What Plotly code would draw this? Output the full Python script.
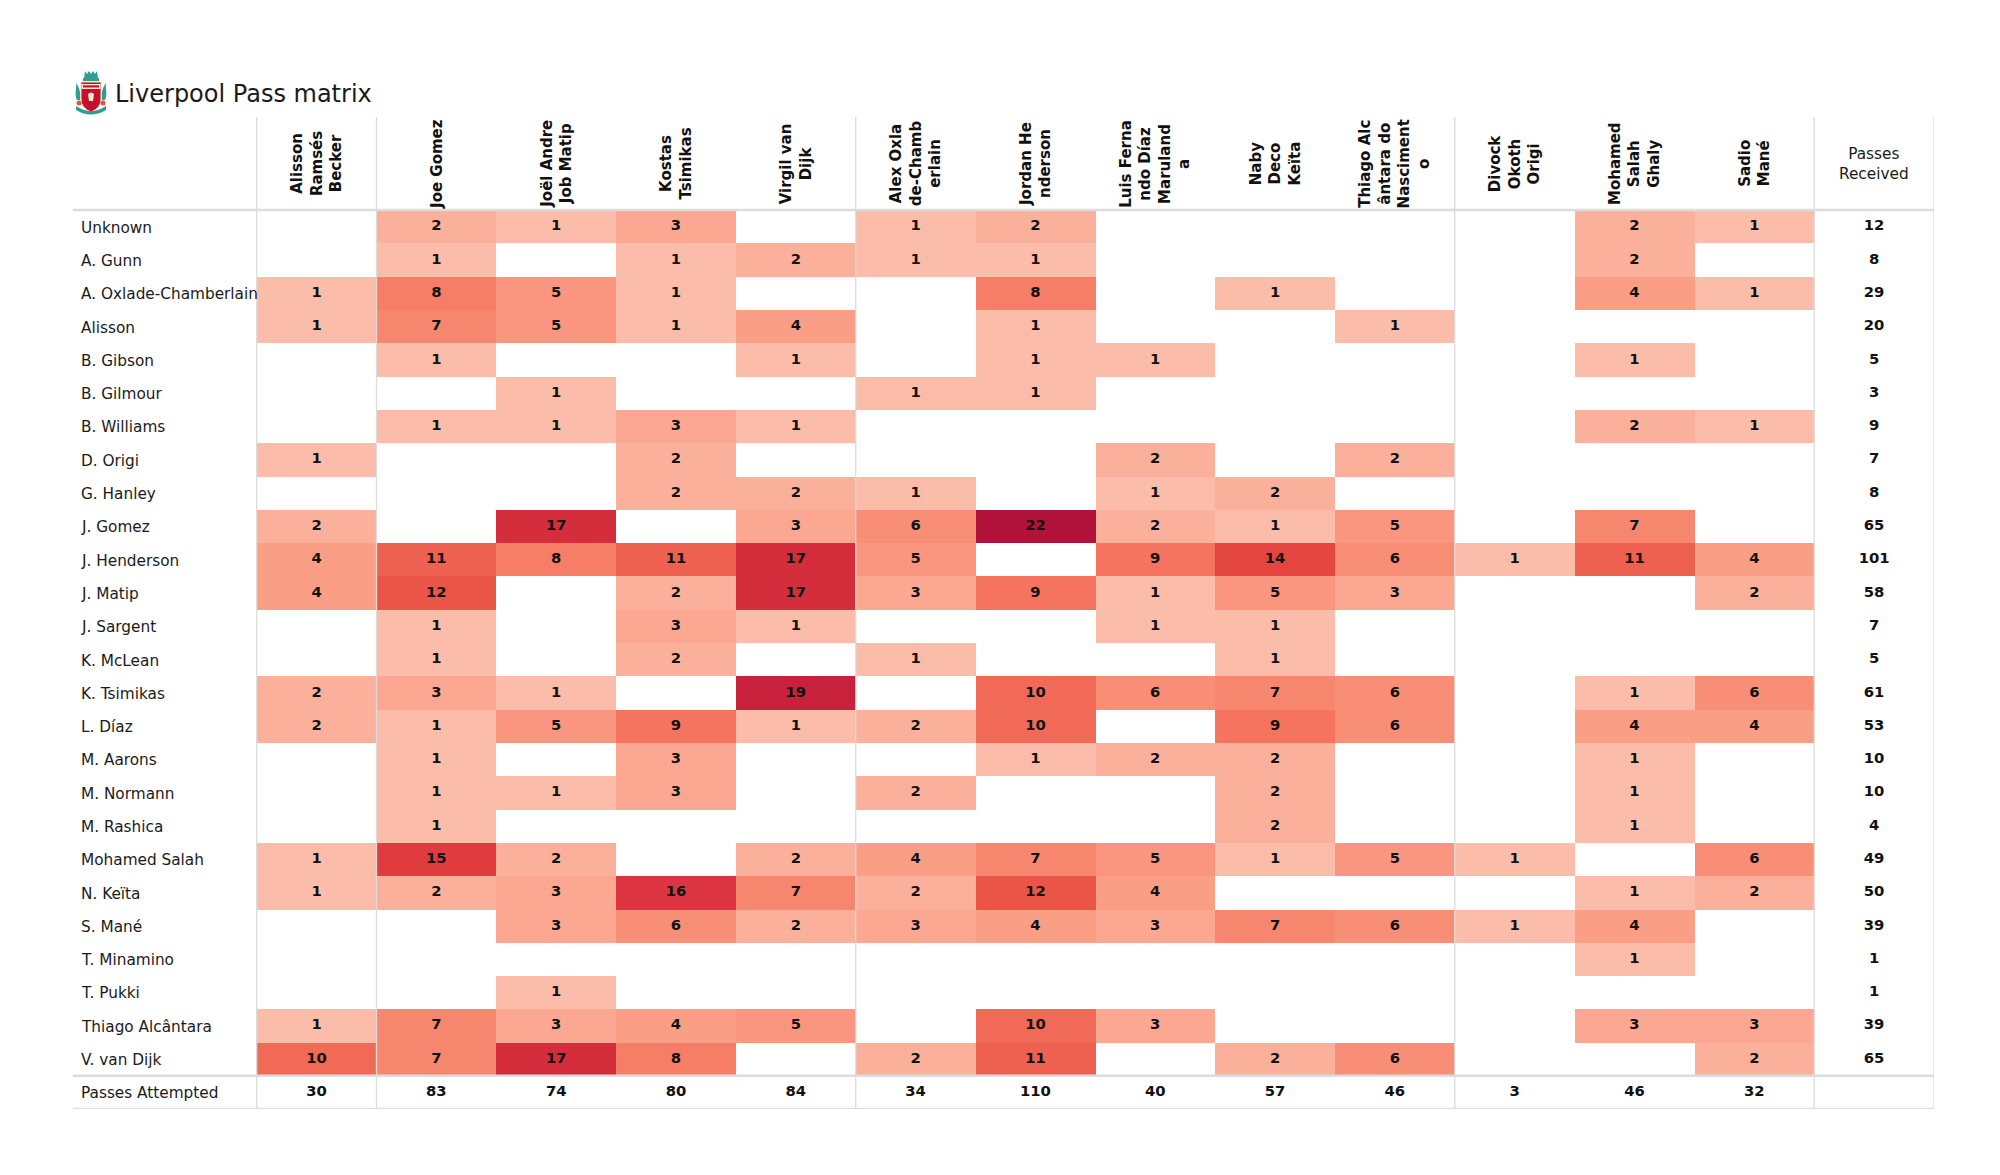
import base64
import plotly.graph_objects as go

# ---------------- data ----------------
passers = [
    "Alisson<br>Ramsés<br>Becker", "Joe Gomez", "Joël Andre<br>Job Matip", "Kostas<br>Tsimikas",
    "Virgil van<br>Dijk", "Alex Oxla<br>de-Chamb<br>erlain", "Jordan He<br>nderson",
    "Luis Ferna<br>ndo Díaz<br>Maruland<br>a", "Naby<br>Deco<br>Keïta",
    "Thiago Alc<br>ântara do<br>Nasciment<br>o", "Divock<br>Okoth<br>Origi",
    "Mohamed<br>Salah<br>Ghaly", "Sadio<br>Mané",
]
receivers = [
    "Unknown", "A. Gunn", "A. Oxlade-Chamberlain", "Alisson", "B. Gibson", "B. Gilmour",
    "B. Williams", "D. Origi", "G. Hanley", "J. Gomez", "J. Henderson", "J. Matip",
    "J. Sargent", "K. McLean", "K. Tsimikas", "L. Díaz", "M. Aarons", "M. Normann",
    "M. Rashica", "Mohamed Salah", "N. Keïta", "S. Mané", "T. Minamino", "T. Pukki",
    "Thiago Alcântara", "V. van Dijk",
]
passes = [
    [0, 2, 1, 3, 0, 1, 2, 0, 0, 0, 0, 2, 1],
    [0, 1, 0, 1, 2, 1, 1, 0, 0, 0, 0, 2, 0],
    [1, 8, 5, 1, 0, 0, 8, 0, 1, 0, 0, 4, 1],
    [1, 7, 5, 1, 4, 0, 1, 0, 0, 1, 0, 0, 0],
    [0, 1, 0, 0, 1, 0, 1, 1, 0, 0, 0, 1, 0],
    [0, 0, 1, 0, 0, 1, 1, 0, 0, 0, 0, 0, 0],
    [0, 1, 1, 3, 1, 0, 0, 0, 0, 0, 0, 2, 1],
    [1, 0, 0, 2, 0, 0, 0, 2, 0, 2, 0, 0, 0],
    [0, 0, 0, 2, 2, 1, 0, 1, 2, 0, 0, 0, 0],
    [2, 0, 17, 0, 3, 6, 22, 2, 1, 5, 0, 7, 0],
    [4, 11, 8, 11, 17, 5, 0, 9, 14, 6, 1, 11, 4],
    [4, 12, 0, 2, 17, 3, 9, 1, 5, 3, 0, 0, 2],
    [0, 1, 0, 3, 1, 0, 0, 1, 1, 0, 0, 0, 0],
    [0, 1, 0, 2, 0, 1, 0, 0, 1, 0, 0, 0, 0],
    [2, 3, 1, 0, 19, 0, 10, 6, 7, 6, 0, 1, 6],
    [2, 1, 5, 9, 1, 2, 10, 0, 9, 6, 0, 4, 4],
    [0, 1, 0, 3, 0, 0, 1, 2, 2, 0, 0, 1, 0],
    [0, 1, 1, 3, 0, 2, 0, 0, 2, 0, 0, 1, 0],
    [0, 1, 0, 0, 0, 0, 0, 0, 2, 0, 0, 1, 0],
    [1, 15, 2, 0, 2, 4, 7, 5, 1, 5, 1, 0, 6],
    [1, 2, 3, 16, 7, 2, 12, 4, 0, 0, 0, 1, 2],
    [0, 0, 3, 6, 2, 3, 4, 3, 7, 6, 1, 4, 0],
    [0, 0, 0, 0, 0, 0, 0, 0, 0, 0, 0, 1, 0],
    [0, 0, 1, 0, 0, 0, 0, 0, 0, 0, 0, 0, 0],
    [1, 7, 3, 4, 5, 0, 10, 3, 0, 0, 0, 3, 3],
    [10, 7, 17, 8, 0, 2, 11, 0, 2, 6, 0, 0, 2],
]
received_label = "Passes<br>Received"
attempted_label = "Passes Attempted"
title_text = "Liverpool Pass matrix"

# ---------------- derived ----------------
n_cols = len(passers)
n_rows = len(receivers)
received = [sum(r) for r in passes]
attempted = [sum(passes[i][j] for i in range(n_rows)) for j in range(n_cols)]

FONT = "DejaVu Sans"
LABEL_W = 1.533      # width of the label column in cell units
HEADER_H = 2.796     # height of the header band in row units
x_left = -0.5 - LABEL_W
x_right = n_cols + 0.5
y_top = -0.5 - HEADER_H
y_bottom = n_rows + 0.5

z = [[v if v > 0 else None for v in row] for row in passes]

colorscale = [
    [0.0, "#fcbcaa"], [0.048, "#fbb09c"], [0.143, "#fb9e86"], [0.238, "#f98e77"],
    [0.333, "#f67e67"], [0.429, "#f16a57"], [0.524, "#eb5548"], [0.619, "#e5453f"],
    [0.714, "#dc3441"], [0.762, "#d42d3c"], [0.857, "#c8213b"], [1.0, "#b0123a"],
]

fig = go.Figure()
fig.add_trace(go.Heatmap(
    x=list(range(n_cols)), y=list(range(n_rows)), z=z,
    zmin=1, zmax=22, colorscale=colorscale, showscale=False, hoverinfo="skip",
))

# cell numbers
cx, cy, ct = [], [], []
for i in range(n_rows):
    for j in range(n_cols):
        if passes[i][j] > 0:
            cx.append(j); cy.append(i); ct.append(str(passes[i][j]))
# totals
for i in range(n_rows):
    cx.append(n_cols); cy.append(i); ct.append(str(received[i]))
for j in range(n_cols):
    cx.append(j); cy.append(n_rows); ct.append(str(attempted[j]))

fig.add_trace(go.Scatter(
    x=cx, y=cy, text=ct, mode="text", hoverinfo="skip", showlegend=False,
    textfont=dict(family=FONT, size=14.8, color="#111111", weight="bold"),
    textposition="middle center",
))

annotations = []
# row labels
for i, name in enumerate(receivers + [attempted_label]):
    annotations.append(dict(
        x=x_left, y=i, xref="x", yref="y", text=name, showarrow=False,
        xanchor="left", yanchor="middle", xshift=6, yshift=-1,
        font=dict(family=FONT, size=15.3, color="#1a1a1a"),
    ))
# column headers
hdr_y = -0.5 - HEADER_H / 2
for j, name in enumerate(passers):
    annotations.append(dict(
        x=j, y=hdr_y, xref="x", yref="y", text=name, showarrow=False,
        textangle=-90, align="center", xanchor="center", yanchor="middle",
        font=dict(family=FONT, size=15, color="#111111", weight="bold"),
    ))
annotations.append(dict(
    x=n_cols, y=hdr_y, xref="x", yref="y", text=received_label, showarrow=False,
    align="center", xanchor="center", yanchor="middle",
    font=dict(family=FONT, size=15.3, color="#1a1a1a"),
))

LINE = "#dcdcdc"
shapes = []
for yv in [-0.5, n_rows - 0.5, n_rows + 0.5]:
    shapes.append(dict(type="line", xref="x", yref="y", x0=x_left, x1=x_right, y0=yv, y1=yv,
                       line=dict(color=LINE, width=2.5), layer="above"))
for xv in [-0.5, 0.5, 4.5, 9.5, 12.5, 13.5]:
    shapes.append(dict(type="line", xref="x", yref="y", x0=xv, x1=xv, y0=y_top, y1=y_bottom,
                       line=dict(color=LINE, width=1.3), layer="above"))

# crest logo (simple vector sketch)
svg = """<svg xmlns='http://www.w3.org/2000/svg' viewBox='0 0 36 46' width='36' height='46'>
<path d='M12 1 L14 4 L16 1 L18 4 L20 1 L22 4 L24 1 L25 9 L11 9 Z' fill='#2f9d8f'/>
<rect x='10' y='8' width='16' height='3' fill='#2f9d8f'/>
<path d='M4 30 C1 24 4 18 3 13 C6 17 8 22 7 30 Z' fill='#2f9d8f'/>
<path d='M32 30 C35 24 32 18 33 13 C30 17 28 22 29 30 Z' fill='#2f9d8f'/>
<path d='M8 12 H28 V29 Q28 38 18 42 Q8 38 8 29 Z' fill='#c8102e' stroke='#e9d8b4' stroke-width='1'/>
<rect x='8.5' y='14' width='19' height='5' fill='#f3e9d2'/>
<rect x='10' y='15.3' width='16' height='2.2' fill='#c8102e'/>
<path d='M15 24 Q18 21 21 24 L20 31 L16 31 Z' fill='#f3e9d2'/>
<path d='M3 36 Q18 46 33 36 L33 40 Q18 49 3 40 Z' fill='#2f9d8f'/>
<circle cx='6' cy='33' r='2.5' fill='#e0573a'/>
<circle cx='30' cy='33' r='2.5' fill='#e0573a'/>
</svg>"""
logo_src = "data:image/svg+xml;base64," + base64.b64encode(svg.encode("utf-8")).decode("ascii")

W, H = 2000, 1175
ML, MR, MT, MB = 73, 66, 117, 66
pw, ph = W - ML - MR, H - MT - MB

fig.update_layout(
    width=W, height=H,
    margin=dict(l=ML, r=MR, t=MT, b=MB, pad=0),
    paper_bgcolor="white", plot_bgcolor="white",
    showlegend=False,
    xaxis=dict(range=[x_left, x_right], visible=False, fixedrange=True),
    yaxis=dict(range=[y_bottom, y_top], visible=False, fixedrange=True),
    annotations=annotations, shapes=shapes,
    title=dict(text=title_text, x=115 / W, xref="container", xanchor="left",
               y=1 - 94 / H, yref="container", yanchor="middle",
               font=dict(family=FONT, size=24, color="#1a1a1a")),
    images=[dict(source=logo_src, xref="paper", yref="paper",
                 x=(73 - ML) / pw, y=(H - MB - 70) / ph,
                 sizex=36 / pw, sizey=46 / ph, xanchor="left", yanchor="top",
                 sizing="contain", layer="above")],
)

fig.write_html("out.html")
